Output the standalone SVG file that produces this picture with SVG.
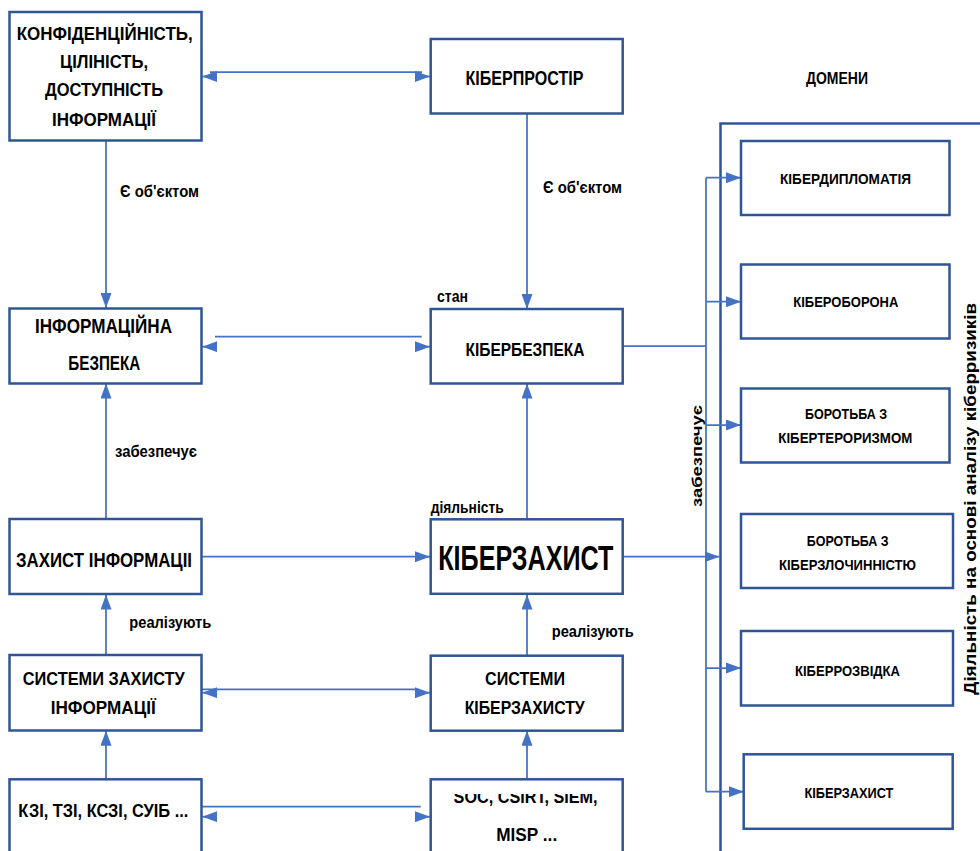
<svg xmlns="http://www.w3.org/2000/svg" width="980" height="851" viewBox="0 0 980 851">
<defs>
<style>
.box{fill:#fff;stroke:#2F5597;stroke-width:2.5}
.cn{fill:none;stroke:#4472C4;stroke-width:1.75}
.t{font-family:"Liberation Sans",Arial,sans-serif;font-weight:bold;fill:#000}
</style>
<marker id="ah" viewBox="0 0 15 11" refX="15" refY="5.5" markerWidth="15" markerHeight="11" markerUnits="userSpaceOnUse" orient="auto">
<path d="M0,0 L15,5.5 L0,11 z" fill="#4472C4"/>
</marker>
<clipPath id="socclip"><rect x="430" y="794" width="200" height="70"/></clipPath>
</defs>
<rect width="980" height="851" fill="#fff"/>

<g id="container">
<path d="M720.5,860 V123.5 H990" fill="none" stroke="#2F5597" stroke-width="2.5"/>
<text class="t" x="806" y="84.3" font-size="16" textLength="62" lengthAdjust="spacingAndGlyphs">ДОМЕНИ</text>
<text class="t" transform="translate(976,695) rotate(-90)" x="0" y="0" font-size="17" textLength="392" lengthAdjust="spacingAndGlyphs">Діяльність на основі аналізу кіберризиків</text>
</g>

<g id="connectors">
<path class="cn" d="M210,72 H422"/>
<path class="cn" d="M216.7,76.5 H202.3" marker-end="url(#ah)"/>
<path class="cn" d="M416,76.5 H430" marker-end="url(#ah)"/>
<path class="cn" d="M106,140 V308" marker-end="url(#ah)"/>
<path class="cn" d="M527,113.5 V309" marker-end="url(#ah)"/>
<path class="cn" d="M215,336.7 H421.7"/>
<path class="cn" d="M216.7,346.7 H202.3" marker-end="url(#ah)"/>
<path class="cn" d="M416,346.7 H430" marker-end="url(#ah)"/>
<path class="cn" d="M106,519 V383.5" marker-end="url(#ah)"/>
<path class="cn" d="M527,519 V383.5" marker-end="url(#ah)"/>
<path class="cn" d="M202.3,556.7 H430" marker-start="url(#ah)" marker-end="url(#ah)"/>
<path class="cn" d="M106,655 V594.5" marker-end="url(#ah)"/>
<path class="cn" d="M527,655.7 V594.5" marker-end="url(#ah)"/>
<path class="cn" d="M187,689.3 H416"/>
<path class="cn" d="M216.7,692.7 H202.3" marker-end="url(#ah)"/>
<path class="cn" d="M416,692.7 H430" marker-end="url(#ah)"/>
<path class="cn" d="M106,779.3 V730.7" marker-end="url(#ah)"/>
<path class="cn" d="M527,779.3 V730.7" marker-end="url(#ah)"/>
<path class="cn" d="M189,806.7 H420.7"/>
<path class="cn" d="M216.7,816.7 H202.3" marker-end="url(#ah)"/>
<path class="cn" d="M416,816.7 H430" marker-end="url(#ah)"/>
<path class="cn" d="M622.7,346 H706"/>
<path class="cn" d="M622.7,556.7 H719.5" marker-end="url(#ah)"/>
<path class="cn" d="M706,177.7 V791.7"/>
<path class="cn" d="M706,177.7 H741" marker-end="url(#ah)"/>
<path class="cn" d="M706,301.7 H741" marker-end="url(#ah)"/>
<path class="cn" d="M706,425 H741" marker-end="url(#ah)"/>
<path class="cn" d="M706,668 H741" marker-end="url(#ah)"/>
<path class="cn" d="M706,791.7 H743.7" marker-end="url(#ah)"/>
<text class="t" x="120" y="196.7" font-size="16" textLength="79" lengthAdjust="spacingAndGlyphs">Є об'єктом</text>
<text class="t" x="543" y="193.3" font-size="16" textLength="79" lengthAdjust="spacingAndGlyphs">Є об'єктом</text>
<text class="t" x="437" y="301.5" font-size="16" textLength="31" lengthAdjust="spacingAndGlyphs">стан</text>
<text class="t" x="115" y="456.7" font-size="16" textLength="82" lengthAdjust="spacingAndGlyphs">забезпечує</text>
<text class="t" x="430.7" y="512.7" font-size="16" textLength="73" lengthAdjust="spacingAndGlyphs">діяльність</text>
<text class="t" x="129.3" y="627.7" font-size="16" textLength="82" lengthAdjust="spacingAndGlyphs">реалізують</text>
<text class="t" x="551.7" y="637.3" font-size="16" textLength="82" lengthAdjust="spacingAndGlyphs">реалізують</text>
<text class="t" transform="translate(702,507) rotate(-90)" x="0" y="0" font-size="14" textLength="102" lengthAdjust="spacingAndGlyphs">забезпечує</text>
</g>

<g id="n-kcia">
<rect class="box" x="9.5" y="12" width="192" height="128.5"/>
<text class="t" x="16.7" y="39.5" font-size="18" textLength="176" lengthAdjust="spacingAndGlyphs">КОНФІДЕНЦІЙНІСТЬ,</text>
<text class="t" x="60" y="67.5" font-size="18" textLength="88" lengthAdjust="spacingAndGlyphs">ЦІЛІНІСТЬ,</text>
<text class="t" x="45" y="95.5" font-size="18" textLength="118" lengthAdjust="spacingAndGlyphs">ДОСТУПНІСТЬ</text>
<text class="t" x="52" y="126" font-size="18" textLength="104" lengthAdjust="spacingAndGlyphs">ІНФОРМАЦІЇ</text>
</g>

<g id="n-cyberspace">
<rect class="box" x="430.7" y="39" width="192" height="74.5"/>
<text class="t" x="465.5" y="85" font-size="20" textLength="118" lengthAdjust="spacingAndGlyphs">КІБЕРПРОСТІР</text>
</g>

<g id="n-infosec">
<rect class="box" x="9.5" y="308.5" width="192" height="75"/>
<text class="t" x="35" y="333.3" font-size="19.5" textLength="137" lengthAdjust="spacingAndGlyphs">ІНФОРМАЦІЙНА</text>
<text class="t" x="68.3" y="370" font-size="19.5" textLength="72" lengthAdjust="spacingAndGlyphs">БЕЗПЕКА</text>
</g>

<g id="n-cybersec">
<rect class="box" x="430.7" y="309" width="192" height="74.5"/>
<text class="t" x="465.5" y="356" font-size="19" textLength="119" lengthAdjust="spacingAndGlyphs">КІБЕРБЕЗПЕКА</text>
</g>

<g id="n-infoprot">
<rect class="box" x="9.5" y="519" width="192" height="75"/>
<text class="t" x="16" y="566.7" font-size="19.5" textLength="176" lengthAdjust="spacingAndGlyphs">ЗАХИСТ ІНФОРМАЦІІ</text>
</g>

<g id="n-cyberdef-main">
<rect class="box" x="430.7" y="519.3" width="192" height="74.5"/>
<text class="t" x="438.3" y="570" font-size="35" textLength="175" lengthAdjust="spacingAndGlyphs">КІБЕРЗАХИСТ</text>
</g>

<g id="n-szi">
<rect class="box" x="9.5" y="655" width="192" height="75.5"/>
<text class="t" x="22.7" y="685" font-size="18.5" textLength="162" lengthAdjust="spacingAndGlyphs">СИСТЕМИ  ЗАХИСТУ</text>
<text class="t" x="50.7" y="714" font-size="18.5" textLength="105" lengthAdjust="spacingAndGlyphs">ІНФОРМАЦІЇ</text>
</g>

<g id="n-skz">
<rect class="box" x="430.7" y="655.7" width="192" height="75"/>
<text class="t" x="485" y="685" font-size="18.5" textLength="80" lengthAdjust="spacingAndGlyphs">СИСТЕМИ</text>
<text class="t" x="464.7" y="714" font-size="18.5" textLength="120" lengthAdjust="spacingAndGlyphs">КІБЕРЗАХИСТУ</text>
</g>

<g id="n-kzi">
<rect class="box" x="9.5" y="779.3" width="192" height="100"/>
<text class="t" x="18.3" y="817.3" font-size="18.5" textLength="170" lengthAdjust="spacingAndGlyphs">КЗІ, ТЗІ, КСЗІ, СУІБ ...</text>
</g>

<g id="n-soc">
<rect class="box" x="430.7" y="779.3" width="192" height="100"/>
<text class="t" x="453.6" y="803" font-size="18.5" textLength="144" lengthAdjust="spacingAndGlyphs" clip-path="url(#socclip)">SOC, CSIRT, SIEM,</text>
<text class="t" x="496.2" y="840.7" font-size="18.5" textLength="61" lengthAdjust="spacingAndGlyphs">MISP ...</text>
</g>

<g id="d-diplomacy">
<rect class="box" x="741" y="141" width="208.5" height="74"/>
<text class="t" x="780" y="184" font-size="15" textLength="131" lengthAdjust="spacingAndGlyphs">КІБЕРДИПЛОМАТІЯ</text>
</g>

<g id="d-defence">
<rect class="box" x="741" y="264.5" width="208.5" height="74"/>
<text class="t" x="793.3" y="306.7" font-size="15" textLength="105" lengthAdjust="spacingAndGlyphs">КІБЕРОБОРОНА</text>
</g>

<g id="d-terror">
<rect class="box" x="741" y="388.5" width="208.5" height="74"/>
<text class="t" x="805" y="419.3" font-size="15" textLength="82" lengthAdjust="spacingAndGlyphs">БОРОТЬБА З</text>
<text class="t" x="778.3" y="443.3" font-size="15" textLength="134" lengthAdjust="spacingAndGlyphs">КІБЕРТЕРОРИЗМОМ</text>
</g>

<g id="d-crime">
<rect class="box" x="741" y="514" width="212" height="74"/>
<text class="t" x="806.7" y="546" font-size="15" textLength="82" lengthAdjust="spacingAndGlyphs">БОРОТЬБА З</text>
<text class="t" x="779" y="570" font-size="15" textLength="137" lengthAdjust="spacingAndGlyphs">КІБЕРЗЛОЧИННІСТЮ</text>
</g>

<g id="d-intel">
<rect class="box" x="741" y="631" width="212" height="74.5"/>
<text class="t" x="795" y="675.7" font-size="15" textLength="105" lengthAdjust="spacingAndGlyphs">КІБЕРРОЗВІДКА</text>
</g>

<g id="d-cyberdef">
<rect class="box" x="743.7" y="754.3" width="209" height="74.5"/>
<text class="t" x="804.4" y="798.3" font-size="15" textLength="89" lengthAdjust="spacingAndGlyphs">КІБЕРЗАХИСТ</text>
</g>
</svg>
